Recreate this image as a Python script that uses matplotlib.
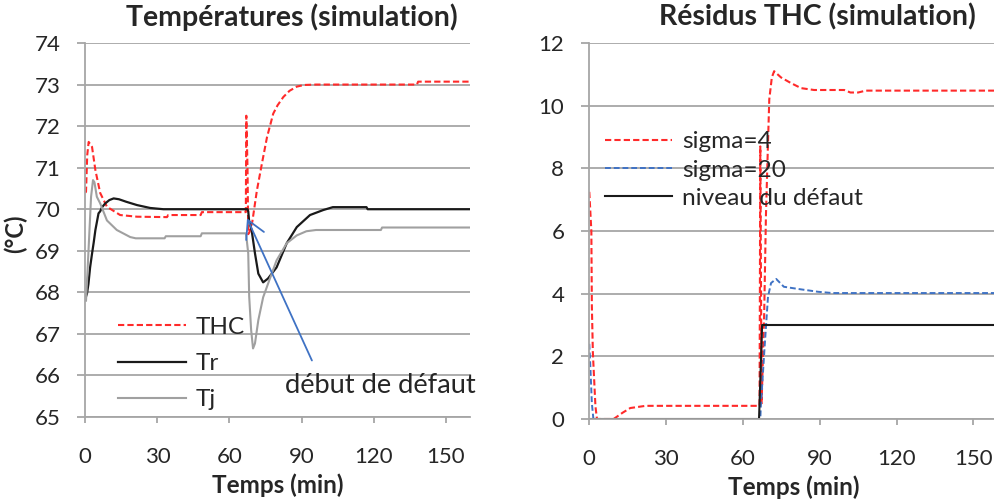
import numpy as np
import matplotlib
matplotlib.use('Agg')
import matplotlib.pyplot as plt

plt.rcParams['font.family'] = ['Lato', 'DejaVu Sans']

# ---- left panel: temperatures (°C) vs time (min)
thc_t = [0, 0.3, 0.8, 1.4, 2.8, 4.2, 6.2, 9, 14.5, 21.5, 34, 34.5, 48, 48.5, 66.8, 67.0,
         67.5, 67.8, 68.3, 69.5, 71.4, 73.5, 75.6, 78.2, 80, 82.4, 85, 88, 91, 96, 138, 138.5, 160]
thc_v = [70.4, 70.42, 71.3, 71.62, 71.5, 70.94, 70.39, 70.06, 69.86, 69.82, 69.81, 69.86, 69.86,
         69.93, 69.93, 72.25, 71.0, 69.4, 69.45, 69.7, 70.45, 71.1, 71.73, 72.3, 72.5, 72.7, 72.85,
         72.95, 72.99, 73.0, 73.0, 73.07, 73.07]

tr_t = [0.3, 0.7, 1.3, 2.0, 2.8, 3.5, 4.2, 5.5, 6.2, 7.0, 8.3, 10, 11.8, 14, 17, 21.5, 27, 32.5,
        66.8, 67.5, 67.8, 68.2, 69.2, 70.6, 72, 74, 76, 79.6, 83.8, 88, 93.5, 99, 103, 117, 117.5, 160]
tr_v = [67.9, 67.97, 68.2, 68.6, 68.93, 69.2, 69.5, 69.9, 69.95, 70.05, 70.14, 70.22, 70.26, 70.24,
        70.18, 70.1, 70.03, 70.0, 70.0, 70.0, 69.95, 69.7, 69.5, 68.94, 68.45, 68.24, 68.33, 68.6,
        69.18, 69.57, 69.86, 69.98, 70.05, 70.05, 70.0, 70.0]

tj_t = [0.3, 1.0, 1.8, 2.4, 3.2, 3.8, 4.8, 6.2, 9, 13.1, 18.7, 21, 33, 33.5, 48, 48.5, 66.8, 67.2,
        67.8, 68.2, 69, 69.8, 70.6, 72, 74, 77, 79.6, 83.8, 88, 92, 96, 123, 123.5, 160]
tj_v = [67.8, 68.6, 69.57, 70.3, 70.7, 70.65, 70.3, 70.14, 69.73, 69.5, 69.33, 69.3, 69.3, 69.35,
        69.35, 69.42, 69.42, 69.25, 68.94, 67.9, 67.1, 66.65, 66.77, 67.33, 67.88, 68.36, 68.77,
        69.18, 69.37, 69.47, 69.5, 69.5, 69.56, 69.56]

# ---- right panel: THC residuals
s4_t = [0, 0.8, 1.0, 1.4, 2.4, 3, 9.5, 13, 16, 22, 66.5, 66.8, 67.3, 68.3, 69.0, 69.8, 70.3, 71.3,
        72.2, 74.9, 78.8, 82.7, 87.8, 99.6, 102, 105, 108, 160]
s4_v = [7.25, 6.0, 3.6, 2.1, 0.4, 0.0, 0.0, 0.2, 0.35, 0.42, 0.42, 8.7, 0.5, 3.3, 6.5, 8.8, 10.2,
        10.9, 11.1, 10.9, 10.72, 10.56, 10.5, 10.5, 10.42, 10.42, 10.48, 10.48]

s20_t = [0, 0.5, 1.0, 1.6, 66.8, 67.0, 68.4, 69.8, 71, 73, 76, 81.6, 89.4, 95, 160]
s20_v = [2.4, 1.5, 0.5, 0.0, 0.0, 0.4, 2.2, 3.9, 4.34, 4.47, 4.22, 4.15, 4.06, 4.02, 4.02]

lvl_t = [0, 66.3, 67.5, 160]
lvl_v = [0, 0, 3.0, 3.0]

grid_c = '#A6A6A6'
txt_c = '#262626'
red = '#FF2A2A'
blue = '#3F72C4'

fig = plt.figure(figsize=(9.94, 5.03), dpi=100)
W, H = 994, 503
ax1 = fig.add_axes([85.3 / W, 86 / H, 384.5 / W, 374 / H])
ax2 = fig.add_axes([589.3 / W, 84 / H, 409.6 / W, 376 / H])


def style(ax, ylim, yticks):
    ax.set_xlim(0, 160)
    ax.set_ylim(*ylim)
    ax.set_yticks(yticks)
    ax.set_xticks([0, 30, 60, 90, 120, 150])
    ax.grid(axis='y', color=grid_c, lw=1.3)
    ax.set_axisbelow(True)
    for s in ['top', 'right']:
        ax.spines[s].set_visible(False)
    for s in ['left', 'bottom']:
        ax.spines[s].set_color(grid_c)
        ax.spines[s].set_linewidth(1.3)
    ax.tick_params(axis='y', length=6, width=1.3, color=grid_c, pad=12,
                   labelsize=16, labelcolor=txt_c)
    ax.tick_params(axis='x', length=4.5, width=1.3, color=grid_c, pad=17,
                   labelsize=16, labelcolor=txt_c)
    ax.set_xlabel('Temps (min)', fontsize=17.5, fontweight='bold', color=txt_c, labelpad=5)


style(ax1, (65, 74), range(65, 75))
ax1.plot(thc_t, thc_v, color=red, lw=1.5, dashes=(3, 1.5), label='THC')
ax1.plot(tr_t, tr_v, color='#1A1A1A', lw=1.6, label='Tr')
ax1.plot(tj_t, tj_v, color='#A0A0A0', lw=1.5, label='Tj')
ax1.set_ylabel('(°C)', fontsize=17, fontweight='bold', color=txt_c)
ax1.yaxis.set_label_coords(-0.15, 0.49)
ax1.legend(loc='upper left', bbox_to_anchor=(0.086, 0.268), frameon=False, fontsize=17.6,
           handlelength=2.75, handletextpad=0.4, labelspacing=0.62, borderpad=0,
           borderaxespad=0, labelcolor=txt_c)
ax1.annotate('', xy=(67.3, 69.78), xytext=(94.3, 66.36),
             arrowprops=dict(arrowstyle='->,head_length=1.26,head_width=0.7',
                             color=blue, lw=1.3, shrinkA=0, shrinkB=0))
ax1.text(83, 65.76, 'début de défaut', fontsize=19.6, color=txt_c, va='center', ha='left',
         clip_on=False)

style(ax2, (0, 12), range(0, 13, 2))
ax2.plot(s4_t, s4_v, color=red, lw=1.5, dashes=(3, 1.5), label='sigma=4')
ax2.plot(s20_t, s20_v, color=blue, lw=1.4, dashes=(3, 1.5), label='sigma=20')
ax2.plot(lvl_t, lvl_v, color='#1A1A1A', lw=1.5, label='niveau du défaut')
ax2.legend(loc='upper left', bbox_to_anchor=(0.039, 0.765), frameon=False, fontsize=17.6,
           handlelength=2.75, handletextpad=0.4, labelspacing=0.29, borderpad=0,
           borderaxespad=0, labelcolor=txt_c)

fig.text(291.5 / W, 1 - 17 / H, 'Températures (simulation)', fontsize=20.5, fontweight='bold',
         color=txt_c, ha='center', va='center')
fig.text(817.5 / W, 1 - 17 / H, 'Résidus THC (simulation)', fontsize=20.5, fontweight='bold',
         color=txt_c, ha='center', va='center')

fig.savefig('out.png', dpi=100)
